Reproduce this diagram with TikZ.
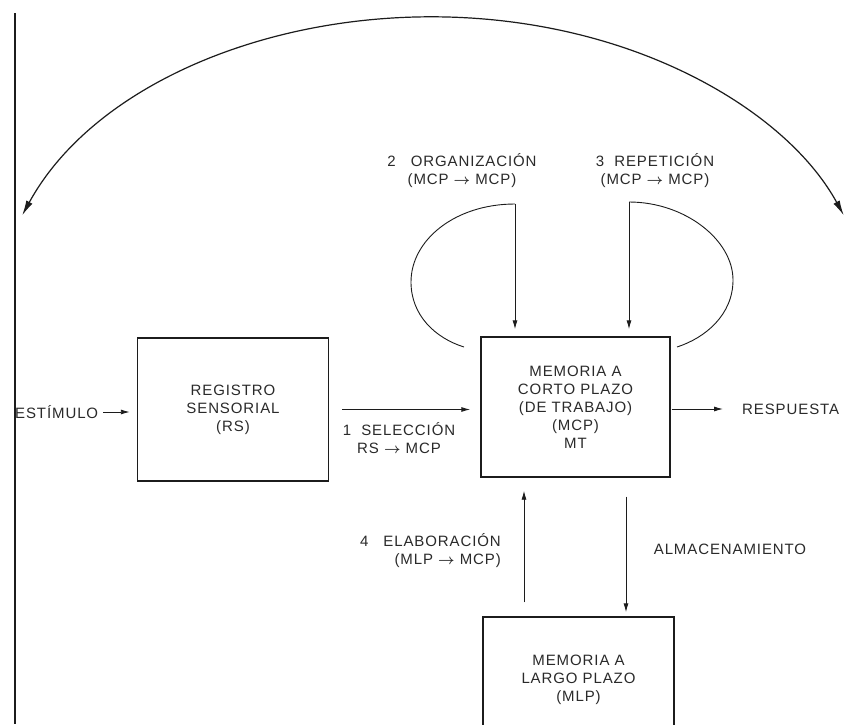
\documentclass[tikz,border=0pt]{standalone}
\usepackage{fontspec}
\setmainfont{Liberation Sans}[LetterSpace=6]
\usepackage{xcolor}
\usepackage{tikz}
\usetikzlibrary{arrows.meta,calc}
\definecolor{ink}{HTML}{1C1C1C}
\definecolor{inkText}{HTML}{2A2A2A}
\newcommand{\memFont}{\fontsize{15}{18}\selectfont}
\newcommand{\flecha}{ {\boldmath$\rightarrow$} }
\tikzset{
  memBox/.style={draw=ink, line width=1.4pt, inner sep=0pt, align=center, text=inkText, font=\memFont},
  memText/.style={text=inkText, font=\memFont, inner sep=1pt, align=center},
  memArrow/.style={draw=ink, line width=0.9pt, -{Latex[length=9pt,width=5pt]}},
  loopLine/.style={draw=ink, line width=0.9pt},
  bigArrow/.style={draw=ink, line width=1.2pt, {Latex[length=15pt,width=7pt]}-{Latex[length=15pt,width=7pt]}}
}

\begin{document}
\begin{tikzpicture}[x=1pt,y=-1pt]
  \useasboundingbox (0,0) rectangle (849,724);
  \clip (0,0) rectangle (849,724);
  \fill[white] (0,0) rectangle (849,724);

  \draw[draw=ink, line width=1.6pt] (15,13) -- (15,724);

  \node[memBox, minimum width=191pt, minimum height=143pt] (rs) at (233,409.5) {REGISTRO\\SENSORIAL\\(RS)};
  \node[memBox, minimum width=189pt, minimum height=140pt] (mcp) at (575.5,407) {MEMORIA A\\CORTO PLAZO\\(DE TRABAJO)\\(MCP)\\MT};
  \node[memBox, minimum width=191pt, minimum height=126pt] (mlp) at (578.5,680) {MEMORIA A\\LARGO PLAZO\\(MLP)};

  \node[memText, anchor=west] (estimulo) at (14,412) {ESTÍMULO};
  \node[memText, anchor=west] (resp) at (741,409) {RESPUESTA};
  \node[memText] (selLabel) at (399,438) {1\ \ SELECCIÓN\\RS\flecha MCP};
  \node[memText] (orgLabel) at (462,171) {2\quad ORGANIZACIÓN\\(MCP\flecha MCP)};
  \node[memText] (repLabel) at (655,171) {3\ \ REPETICIÓN\\(MCP\flecha MCP)};
  \node[memText, align=right, anchor=east] (elabLabel) at (502,551) {4\quad ELABORACIÓN\\(MLP\flecha MCP)};
  \node[memText] (almLabel) at (730,549) {ALMACENAMIENTO};

  \draw[memArrow, shorten <=4pt, shorten >=7pt] (estimulo.east) -- (estimulo.east -| rs.west);
  \draw[memArrow, shorten <=13pt, shorten >=10pt] (rs.east) -- (rs.east -| mcp.west);
  \draw[memArrow, shorten <=1pt, shorten >=18pt] (resp.west -| mcp.east) -- (resp.west);
  \draw[memArrow, shorten <=14pt, shorten >=13pt] (mlp.north -| 524,0) -- (mcp.south -| 524,0);
  \draw[memArrow, shorten <=19pt, shorten >=4pt] (mcp.south -| 626,0) -- (mlp.north -| 626,0);

  \coordinate (orgTop) at (515,204);
  \coordinate (repTop) at (629,202);
  \coordinate (orgEnd) at (464,347);
  \coordinate (repEnd) at (677,347);
  \draw[loopLine] (orgEnd) .. controls (435,338) and (411,315) .. (411,282) .. controls (411,240) and (455,204) .. (orgTop);
  \draw[loopLine] (repEnd) .. controls (705,338) and (733,315) .. (733,280) .. controls (733,240) and (685,202) .. (repTop);
  \draw[memArrow, shorten >=7pt] (orgTop) -- (orgTop |- mcp.north);
  \draw[memArrow, shorten >=7pt] (repTop) -- (repTop |- mcp.north);

  \coordinate (arcLeft) at (22.2,215.3);
  \draw[bigArrow] (arcLeft) arc[start angle=201, end angle=339, x radius=440, y radius=309];
\end{tikzpicture}
\end{document}
